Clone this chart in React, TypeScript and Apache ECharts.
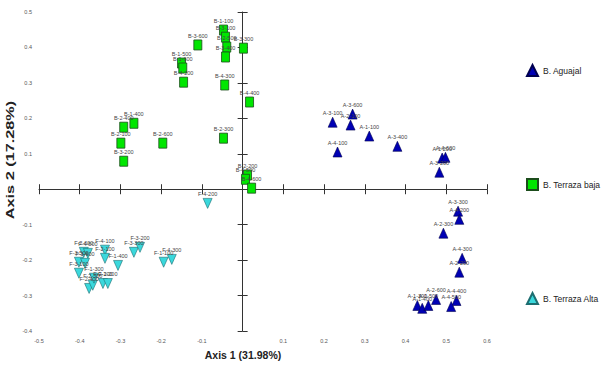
import React, { useEffect, useRef } from "react";
import * as echarts from "echarts";

const xTicks = { min: -0.5, max: 0.6, interval: 0.1 };
const yTicks = { min: -0.4, max: 0.5, interval: 0.1 };

const aguajalNames = ["A-3-600", "A-3-100", "A-2-100", "A-1-100", "A-3-400", "A-4-100", "A-1-200", "A-4-600", "A-3-200", "A-3-300", "A-4-200", "A-2-300", "A-4-300", "A-2-200", "A-1-300", "A-1-400", "A-1-500", "A-2-600", "A-4-400", "A-4-500"];
const aguajalX = [0.270, 0.221, 0.265, 0.311, 0.380, 0.233, 0.490, 0.498, 0.483, 0.529, 0.532, 0.493, 0.539, 0.532, 0.429, 0.441, 0.456, 0.475, 0.525, 0.512];
const aguajalY = [0.212, 0.189, 0.181, 0.150, 0.121, 0.105, 0.088, 0.090, 0.048, -0.062, -0.085, -0.124, -0.195, -0.234, -0.328, -0.336, -0.328, -0.311, -0.314, -0.331];

const bajaNames = ["B-1-100", "B-3-100", "B-2-500", "B-3-400", "B-3-300", "B-3-600", "B-1-500", "B-1-600", "B-4-200", "B-4-300", "B-4-400", "B-1-400", "B-2-400", "B-2-100", "B-3-200", "B-2-600", "B-2-300", "B-2-200", "B-4-500", "B-4-600"];
const bajaX = [-0.047, -0.042, -0.039, -0.042, 0.002, -0.110, -0.150, -0.147, -0.145, -0.044, 0.017, -0.267, -0.292, -0.299, -0.292, -0.196, -0.047, 0.012, 0.007, 0.022];
const bajaY = [0.449, 0.429, 0.401, 0.373, 0.398, 0.407, 0.356, 0.342, 0.302, 0.294, 0.246, 0.186, 0.175, 0.130, 0.079, 0.130, 0.144, 0.040, 0.028, 0.003];

const altaNames = ["F-4-200", "F-2-600", "F-4-500", "F-4-100", "F-2-100", "F-3-500", "F-3-600", "F-3-100", "F-1-400", "F-3-300", "F-3-200", "F-1-100", "F-4-300", "F-2-400", "F-2-300", "F-2-200", "F-1-200", "F-1-300"];
const altaX = [-0.086, -0.390, -0.380, -0.338, -0.338, -0.402, -0.387, -0.402, -0.306, -0.267, -0.252, -0.194, -0.174, -0.377, -0.368, -0.343, -0.331, -0.365];
const altaY = [-0.040, -0.178, -0.181, -0.172, -0.195, -0.206, -0.209, -0.237, -0.215, -0.178, -0.164, -0.206, -0.198, -0.280, -0.271, -0.266, -0.266, -0.251];

const seriesNames = ["B. Aguajal", "B. Terraza baja", "B. Terraza Alta"];
const axisTitles = ["Axis 1 (31.98%)", "Axis 2 (17.28%)"];

const FONT = "Liberation Sans";

function pts(names: string[], xs: number[], ys: number[]) {
  return names.map((n, i) => ({ name: n, value: [xs[i], ys[i]] }));
}

const labelStyle = {
  show: true,
  position: "top" as const,
  distance: 1,
  fontSize: 5.5,
  color: "#444",
  fontFamily: FONT,
  formatter: (p: any) => p.name,
};

const tickFmt = (v: number) => (Math.abs(v) < 1e-9 ? "" : String(Math.round(v * 10) / 10));

export default function App() {
  const ref = useRef<HTMLDivElement>(null);
  useEffect(() => {
    if (!ref.current) return;
    const chart = echarts.init(ref.current, null, { renderer: "svg" });
    const axisLabel = { fontSize: 5.5, color: "#555", fontFamily: FONT, margin: 7 };
    chart.setOption({
      animation: false,
      backgroundColor: "#ffffff",
      grid: { left: 39, right: 114, top: 12, bottom: 34, containLabel: false },
      xAxis: [
        {
          type: "value", ...xTicks, position: "bottom",
          axisLine: { show: true, onZero: true, lineStyle: { color: "#333", width: 1 } },
          axisTick: { show: true, length: 5, lineStyle: { color: "#333" } },
          axisLabel: { ...axisLabel, formatter: tickFmt },
          splitLine: { show: false },
        },
        {
          type: "value", ...xTicks, position: "bottom",
          axisLine: { show: false, onZero: true },
          axisTick: { show: true, inside: true, length: 5, lineStyle: { color: "#333" } },
          axisLabel: { show: false },
          splitLine: { show: false },
        },
      ],
      yAxis: [
        {
          type: "value", ...yTicks, position: "left",
          axisLine: { show: true, onZero: true, lineStyle: { color: "#333", width: 1 } },
          axisTick: { show: true, length: 5, lineStyle: { color: "#333" } },
          axisLabel: { ...axisLabel, formatter: tickFmt },
          splitLine: { show: false },
        },
        {
          type: "value", ...yTicks, position: "left",
          axisLine: { show: false, onZero: true },
          axisTick: { show: true, inside: true, length: 5, lineStyle: { color: "#333" } },
          axisLabel: { show: false },
          splitLine: { show: false },
        },
      ],
      legend: {
        orient: "vertical",
        left: 521,
        top: 59,
        itemGap: 101,
        itemWidth: 11,
        itemHeight: 11,
        textStyle: { fontSize: 8.5, color: "#222", fontFamily: FONT },
        data: seriesNames,
      },
      series: [
        {
          name: seriesNames[0], type: "scatter", xAxisIndex: 0, yAxisIndex: 0,
          symbol: "triangle", symbolSize: [9, 10],
          itemStyle: { color: "#0000b4", borderColor: "#000050", borderWidth: 0.6, opacity: 1 },
          label: labelStyle,
          data: pts(aguajalNames, aguajalX, aguajalY),
        },
        {
          name: seriesNames[1], type: "scatter", xAxisIndex: 0, yAxisIndex: 0,
          symbol: "rect", symbolSize: [8, 10],
          itemStyle: { color: "#00e600", borderColor: "#1c4d1c", borderWidth: 0.8, opacity: 1 },
          label: labelStyle,
          data: pts(bajaNames, bajaX, bajaY),
        },
        {
          name: seriesNames[2], type: "scatter", xAxisIndex: 0, yAxisIndex: 0,
          symbol: "triangle", symbolRotate: 180, symbolSize: [9, 10],
          itemStyle: { color: "#3ad8dc", borderColor: "#1d6d70", borderWidth: 0.6, opacity: 1 },
          label: labelStyle,
          data: pts(altaNames, altaX, altaY),
        },
      ],
      graphic: [
        {
          type: "text", x: 243, y: 355,
          style: { text: axisTitles[0], fontSize: 10.5, fontWeight: "bold", fill: "#222", fontFamily: FONT, textAlign: "center", textVerticalAlign: "middle" },
        },
        {
          type: "text", x: 11, y: 160, rotation: Math.PI / 2, scaleX: 1.55,
          style: { text: axisTitles[1], fontSize: 10.5, fontWeight: "bold", fill: "#222", fontFamily: FONT, textAlign: "center", textVerticalAlign: "middle" },
        },
      ],
    });
    return () => chart.dispose();
  }, []);
  return <div ref={ref} style={{ position: "fixed", left: 0, top: 0, width: 601, height: 365 }} />;
}
